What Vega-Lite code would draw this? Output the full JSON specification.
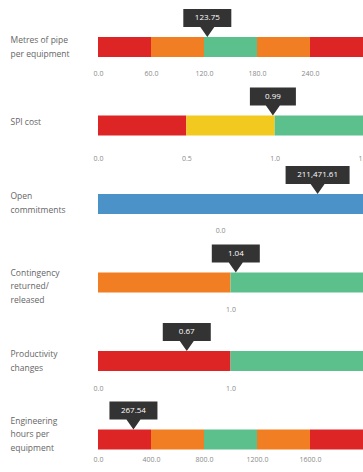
{
  "$schema": "https://vega.github.io/schema/vega-lite/v6.json",
  "padding": {"left": 10, "top": 9, "right": 0, "bottom": 0},
  "bounds": "flush",
  "spacing": 58.5,
  "datasets": {
    "segs": [
      {"id": "pipe", "metric": "Metres of pipe\nper equipment", "start": 0, "end": 60, "band": "poor"},
      {"id": "pipe", "metric": "Metres of pipe\nper equipment", "start": 60, "end": 120, "band": "fair"},
      {"id": "pipe", "metric": "Metres of pipe\nper equipment", "start": 120, "end": 180, "band": "good"},
      {"id": "pipe", "metric": "Metres of pipe\nper equipment", "start": 180, "end": 240, "band": "fair"},
      {"id": "pipe", "metric": "Metres of pipe\nper equipment", "start": 240, "end": 300, "band": "poor"},
      {"id": "spi", "metric": "SPI cost", "start": 0, "end": 0.5, "band": "poor"},
      {"id": "spi", "metric": "SPI cost", "start": 0.5, "end": 1.0, "band": "warning"},
      {"id": "spi", "metric": "SPI cost", "start": 1.0, "end": 1.5, "band": "good"},
      {"id": "open", "metric": "Open\ncommitments", "start": -265000, "end": 310000, "band": "neutral"},
      {"id": "cont", "metric": "Contingency\nreturned/\nreleased", "start": 0, "end": 1, "band": "fair"},
      {"id": "cont", "metric": "Contingency\nreturned/\nreleased", "start": 1, "end": 2, "band": "good"},
      {"id": "prod", "metric": "Productivity\nchanges", "start": 0, "end": 1, "band": "poor"},
      {"id": "prod", "metric": "Productivity\nchanges", "start": 1, "end": 2, "band": "good"},
      {"id": "eng", "metric": "Engineering\nhours per\nequipment", "start": 0, "end": 400, "band": "poor"},
      {"id": "eng", "metric": "Engineering\nhours per\nequipment", "start": 400, "end": 800, "band": "fair"},
      {"id": "eng", "metric": "Engineering\nhours per\nequipment", "start": 800, "end": 1200, "band": "good"},
      {"id": "eng", "metric": "Engineering\nhours per\nequipment", "start": 1200, "end": 1600, "band": "fair"},
      {"id": "eng", "metric": "Engineering\nhours per\nequipment", "start": 1600, "end": 2000, "band": "poor"}
    ],
    "vals": [
      {"id": "pipe", "metric": "Metres of pipe\nper equipment", "value": 123.75, "label": "123.75"},
      {"id": "spi", "metric": "SPI cost", "value": 0.99, "label": "0.99"},
      {"id": "open", "metric": "Open\ncommitments", "value": 211471.61, "label": "211,471.61"},
      {"id": "cont", "metric": "Contingency\nreturned/\nreleased", "value": 1.04, "label": "1.04"},
      {"id": "prod", "metric": "Productivity\nchanges", "value": 0.67, "label": "0.67"},
      {"id": "eng", "metric": "Engineering\nhours per\nequipment", "value": 267.54, "label": "267.54"}
    ]
  },
  "vconcat": [
    {
      "width": 265, "height": 20,
      "layer": [
        {"data": {"name": "segs"}, "transform": [{"filter": {"field": "id", "equal": "pipe"}}],
         "mark": {"type": "bar"},
         "encoding": {
           "x": {"field": "start", "type": "quantitative", "title": null, "scale": {"domain": [0, 300], "nice": false, "zero": false}, "axis": {"values": [0, 60, 120, 180, 240], "labelPadding": 12}},
           "x2": {"field": "end"},
           "y": {"field": "metric", "type": "nominal", "title": null, "scale": {"type": "band", "paddingInner": 0, "paddingOuter": 0}, "axis": {"labelOffset": -7}},
           "color": {"field": "band", "type": "nominal", "scale": {"domain": ["poor", "fair", "good", "warning", "neutral"], "range": ["#DE2526", "#F17E22", "#5BC08C", "#F2C91F", "#4B92C9"]}, "legend": null}
         }},
        {"data": {"name": "vals"}, "transform": [{"filter": {"field": "id", "equal": "pipe"}}],
         "mark": {"type": "point", "shape": "M0,0L-7,-10H-24V-28H24V-10H7Z", "size": 4, "filled": true, "color": "#333333", "opacity": 1, "yOffset": -10},
         "encoding": {"x": {"field": "value", "type": "quantitative"}, "y": {"field": "metric", "type": "nominal"}}},
        {"data": {"name": "vals"}, "transform": [{"filter": {"field": "id", "equal": "pipe"}}],
         "mark": {"type": "text", "color": "#ffffff", "fontSize": 8, "baseline": "middle", "yOffset": -29},
         "encoding": {"x": {"field": "value", "type": "quantitative"}, "y": {"field": "metric", "type": "nominal"}, "text": {"field": "label"}}}
      ]
    },
    {
      "width": 265, "height": 20,
      "layer": [
        {"data": {"name": "segs"}, "transform": [{"filter": {"field": "id", "equal": "spi"}}],
         "mark": {"type": "bar"},
         "encoding": {
           "x": {"field": "start", "type": "quantitative", "title": null, "scale": {"domain": [0, 1.5], "nice": false, "zero": false}, "axis": {"values": [0, 0.5, 1.0, 1.5], "labelPadding": 19}},
           "x2": {"field": "end"},
           "y": {"field": "metric", "type": "nominal", "title": null, "scale": {"type": "band", "paddingInner": 0, "paddingOuter": 0}, "axis": {"labelOffset": -4}},
           "color": {"field": "band", "type": "nominal", "scale": {"domain": ["poor", "fair", "good", "warning", "neutral"], "range": ["#DE2526", "#F17E22", "#5BC08C", "#F2C91F", "#4B92C9"]}, "legend": null}
         }},
        {"data": {"name": "vals"}, "transform": [{"filter": {"field": "id", "equal": "spi"}}],
         "mark": {"type": "point", "shape": "M0,0L-7,-10H-23V-28H23V-10H7Z", "size": 4, "filled": true, "color": "#333333", "opacity": 1, "yOffset": -10},
         "encoding": {"x": {"field": "value", "type": "quantitative"}, "y": {"field": "metric", "type": "nominal"}}},
        {"data": {"name": "vals"}, "transform": [{"filter": {"field": "id", "equal": "spi"}}],
         "mark": {"type": "text", "color": "#ffffff", "fontSize": 8, "baseline": "middle", "yOffset": -29},
         "encoding": {"x": {"field": "value", "type": "quantitative"}, "y": {"field": "metric", "type": "nominal"}, "text": {"field": "label"}}}
      ]
    },
    {
      "width": 265, "height": 20,
      "layer": [
        {"data": {"name": "segs"}, "transform": [{"filter": {"field": "id", "equal": "open"}}],
         "mark": {"type": "bar"},
         "encoding": {
           "x": {"field": "start", "type": "quantitative", "title": null, "scale": {"domain": [-265000, 310000], "nice": false, "zero": false}, "axis": {"values": [0], "labelPadding": 12}},
           "x2": {"field": "end"},
           "y": {"field": "metric", "type": "nominal", "title": null, "scale": {"type": "band", "paddingInner": 0, "paddingOuter": 0}, "axis": {"labelOffset": -8}},
           "color": {"field": "band", "type": "nominal", "scale": {"domain": ["poor", "fair", "good", "warning", "neutral"], "range": ["#DE2526", "#F17E22", "#5BC08C", "#F2C91F", "#4B92C9"]}, "legend": null}
         }},
        {"data": {"name": "vals"}, "transform": [{"filter": {"field": "id", "equal": "open"}}],
         "mark": {"type": "point", "shape": "M0,0L-7,-10H-32V-28H32V-10H7Z", "size": 4, "filled": true, "color": "#333333", "opacity": 1, "yOffset": -10},
         "encoding": {"x": {"field": "value", "type": "quantitative"}, "y": {"field": "metric", "type": "nominal"}}},
        {"data": {"name": "vals"}, "transform": [{"filter": {"field": "id", "equal": "open"}}],
         "mark": {"type": "text", "color": "#ffffff", "fontSize": 8, "baseline": "middle", "yOffset": -29},
         "encoding": {"x": {"field": "value", "type": "quantitative"}, "y": {"field": "metric", "type": "nominal"}, "text": {"field": "label"}}}
      ]
    },
    {
      "width": 265, "height": 20,
      "layer": [
        {"data": {"name": "segs"}, "transform": [{"filter": {"field": "id", "equal": "cont"}}],
         "mark": {"type": "bar"},
         "encoding": {
           "x": {"field": "start", "type": "quantitative", "title": null, "scale": {"domain": [0, 2], "nice": false, "zero": false}, "axis": {"values": [1], "labelPadding": 13}},
           "x2": {"field": "end"},
           "y": {"field": "metric", "type": "nominal", "title": null, "scale": {"type": "band", "paddingInner": 0, "paddingOuter": 0}, "axis": {"labelOffset": -10}},
           "color": {"field": "band", "type": "nominal", "scale": {"domain": ["poor", "fair", "good", "warning", "neutral"], "range": ["#DE2526", "#F17E22", "#5BC08C", "#F2C91F", "#4B92C9"]}, "legend": null}
         }},
        {"data": {"name": "vals"}, "transform": [{"filter": {"field": "id", "equal": "cont"}}],
         "mark": {"type": "point", "shape": "M0,0L-7,-10H-24V-28H24V-10H7Z", "size": 4, "filled": true, "color": "#333333", "opacity": 1, "yOffset": -10},
         "encoding": {"x": {"field": "value", "type": "quantitative"}, "y": {"field": "metric", "type": "nominal"}}},
        {"data": {"name": "vals"}, "transform": [{"filter": {"field": "id", "equal": "cont"}}],
         "mark": {"type": "text", "color": "#ffffff", "fontSize": 8, "baseline": "middle", "yOffset": -29},
         "encoding": {"x": {"field": "value", "type": "quantitative"}, "y": {"field": "metric", "type": "nominal"}, "text": {"field": "label"}}}
      ]
    },
    {
      "width": 265, "height": 20,
      "layer": [
        {"data": {"name": "segs"}, "transform": [{"filter": {"field": "id", "equal": "prod"}}],
         "mark": {"type": "bar"},
         "encoding": {
           "x": {"field": "start", "type": "quantitative", "title": null, "scale": {"domain": [0, 2], "nice": false, "zero": false}, "axis": {"values": [0, 1], "labelPadding": 13}},
           "x2": {"field": "end"},
           "y": {"field": "metric", "type": "nominal", "title": null, "scale": {"type": "band", "paddingInner": 0, "paddingOuter": 0}, "axis": {"labelOffset": -7}},
           "color": {"field": "band", "type": "nominal", "scale": {"domain": ["poor", "fair", "good", "warning", "neutral"], "range": ["#DE2526", "#F17E22", "#5BC08C", "#F2C91F", "#4B92C9"]}, "legend": null}
         }},
        {"data": {"name": "vals"}, "transform": [{"filter": {"field": "id", "equal": "prod"}}],
         "mark": {"type": "point", "shape": "M0,0L-7,-10H-24V-28H24V-10H7Z", "size": 4, "filled": true, "color": "#333333", "opacity": 1, "yOffset": -10},
         "encoding": {"x": {"field": "value", "type": "quantitative"}, "y": {"field": "metric", "type": "nominal"}}},
        {"data": {"name": "vals"}, "transform": [{"filter": {"field": "id", "equal": "prod"}}],
         "mark": {"type": "text", "color": "#ffffff", "fontSize": 8, "baseline": "middle", "yOffset": -29},
         "encoding": {"x": {"field": "value", "type": "quantitative"}, "y": {"field": "metric", "type": "nominal"}, "text": {"field": "label"}}}
      ]
    },
    {
      "width": 265, "height": 20,
      "layer": [
        {"data": {"name": "segs"}, "transform": [{"filter": {"field": "id", "equal": "eng"}}],
         "mark": {"type": "bar"},
         "encoding": {
           "x": {"field": "start", "type": "quantitative", "title": null, "scale": {"domain": [0, 2000], "nice": false, "zero": false}, "axis": {"values": [0, 400, 800, 1200, 1600], "labelPadding": 6}},
           "x2": {"field": "end"},
           "y": {"field": "metric", "type": "nominal", "title": null, "scale": {"type": "band", "paddingInner": 0, "paddingOuter": 0}, "axis": {"labelOffset": -19}},
           "color": {"field": "band", "type": "nominal", "scale": {"domain": ["poor", "fair", "good", "warning", "neutral"], "range": ["#DE2526", "#F17E22", "#5BC08C", "#F2C91F", "#4B92C9"]}, "legend": null}
         }},
        {"data": {"name": "vals"}, "transform": [{"filter": {"field": "id", "equal": "eng"}}],
         "mark": {"type": "point", "shape": "M0,0L-7,-10H-24V-28H24V-10H7Z", "size": 4, "filled": true, "color": "#333333", "opacity": 1, "yOffset": -10},
         "encoding": {"x": {"field": "value", "type": "quantitative"}, "y": {"field": "metric", "type": "nominal"}}},
        {"data": {"name": "vals"}, "transform": [{"filter": {"field": "id", "equal": "eng"}}],
         "mark": {"type": "text", "color": "#ffffff", "fontSize": 8, "baseline": "middle", "yOffset": -29},
         "encoding": {"x": {"field": "value", "type": "quantitative"}, "y": {"field": "metric", "type": "nominal"}, "text": {"field": "label"}}}
      ]
    }
  ],
  "config": {
    "font": "Open Sans",
    "view": {"stroke": null},
    "axisX": {"domain": false, "ticks": false, "tickSize": 0, "grid": false, "labelFontSize": 7, "labelColor": "#8a8a8a", "format": ".1f", "labelFlush": false, "labelOverlap": false, "labelBaseline": "top"},
    "axisY": {"domain": false, "ticks": false, "tickSize": 0, "grid": false, "labelAlign": "left", "labelBaseline": "middle", "labelPadding": 88, "labelLimit": 90, "labelFontSize": 8.5, "labelColor": "#666666", "labelLineHeight": 13.5, "labelExpr": "split(datum.label, '\\n')"}
  }
}
